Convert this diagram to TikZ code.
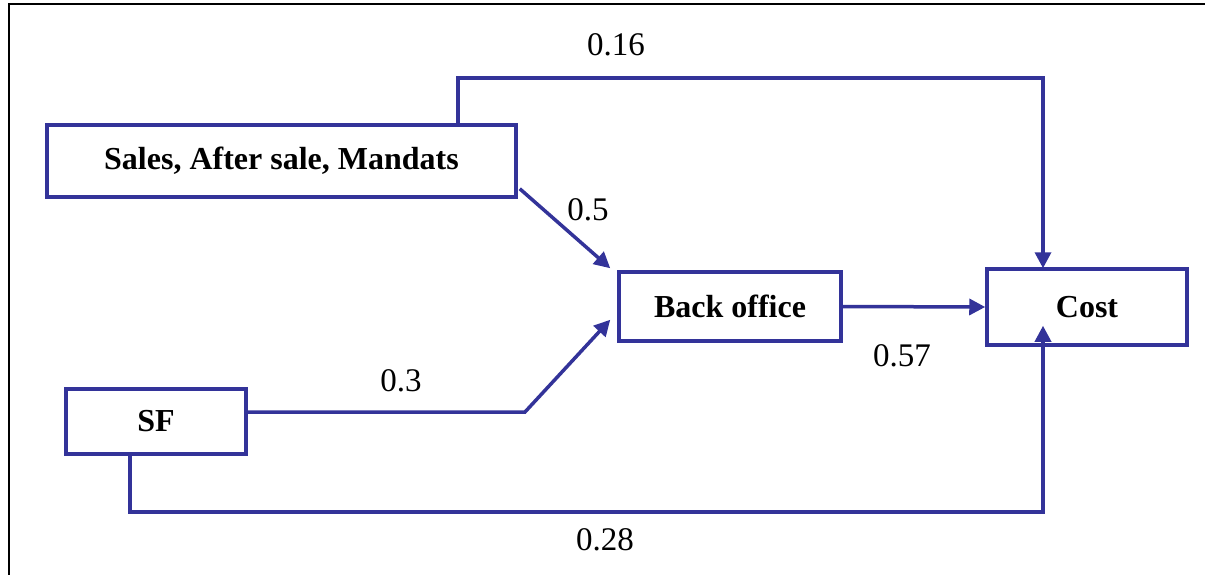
\documentclass[tikz,border=0pt]{standalone}
\usepackage{fontspec}
\setmainfont{Liberation Serif}
\usetikzlibrary{arrows.meta,calc}
\definecolor{lineblue}{HTML}{333399}
\begin{document}
\begin{tikzpicture}[x=1pt,y=-1pt,
  boxst/.style={draw=lineblue,line width=3.5pt,fill=white,inner sep=0pt,
    font=\fontsize{32}{38}\selectfont\bfseries},
  conn/.style={draw=lineblue,line width=3.5pt},
  arr/.style={conn,-{Triangle[length=16pt,width=16pt]}},
  lbl/.style={font=\fontsize{33}{38}\selectfont,inner sep=0pt}]
\useasboundingbox (0,0) rectangle (1205,575);
% frame
\draw[line width=2.5pt,black] (9,575) -- (9,4) -- (1205,4);
% boxes
\node[boxst,minimum width=469pt,minimum height=72pt] (sales) at (281.5,161) {Sales, After sale, Mandats};
\node[boxst,minimum width=222pt,minimum height=69pt] (back) at (730,306.5) {Back office};
\node[boxst,minimum width=200pt,minimum height=76pt] (cost) at (1087,307) {Cost};
\node[boxst,minimum width=180pt,minimum height=65pt] (sf) at (156,421.5) {SF};
% helper coordinates
\coordinate (tx) at (458,78);
\coordinate (cx) at (1043,0);
\coordinate (bx) at (130,512);
\coordinate (sfk) at (525,412);
% connectors
\draw[arr] (sales.north -| tx) -- (tx) -| ([yshift=-1pt]cost.north -| cx);
\draw[arr] ([shift={(2,-10)}]sales.south east) -- ([shift={(-7,-2)}]back.north west);
\draw[arr] (sf.east |- sfk) -- (sfk) -- ([shift={(-7,-23)}]back.south west);
\draw[arr] (back.east) -- (cost.west);
\draw[arr] (sf.south -| bx) -- (bx) -| ([yshift=21pt]cost.south -| cx);
% labels
\node[lbl] (l16) at (616,45) {0.16};
\node[lbl] (l5) at (588,210) {0.5};
\node[lbl] (l3) at (401,381) {0.3};
\node[lbl] (l57) at (902,356) {0.57};
\node[lbl] (l28) at (605,540) {0.28};
\end{tikzpicture}
\end{document}
